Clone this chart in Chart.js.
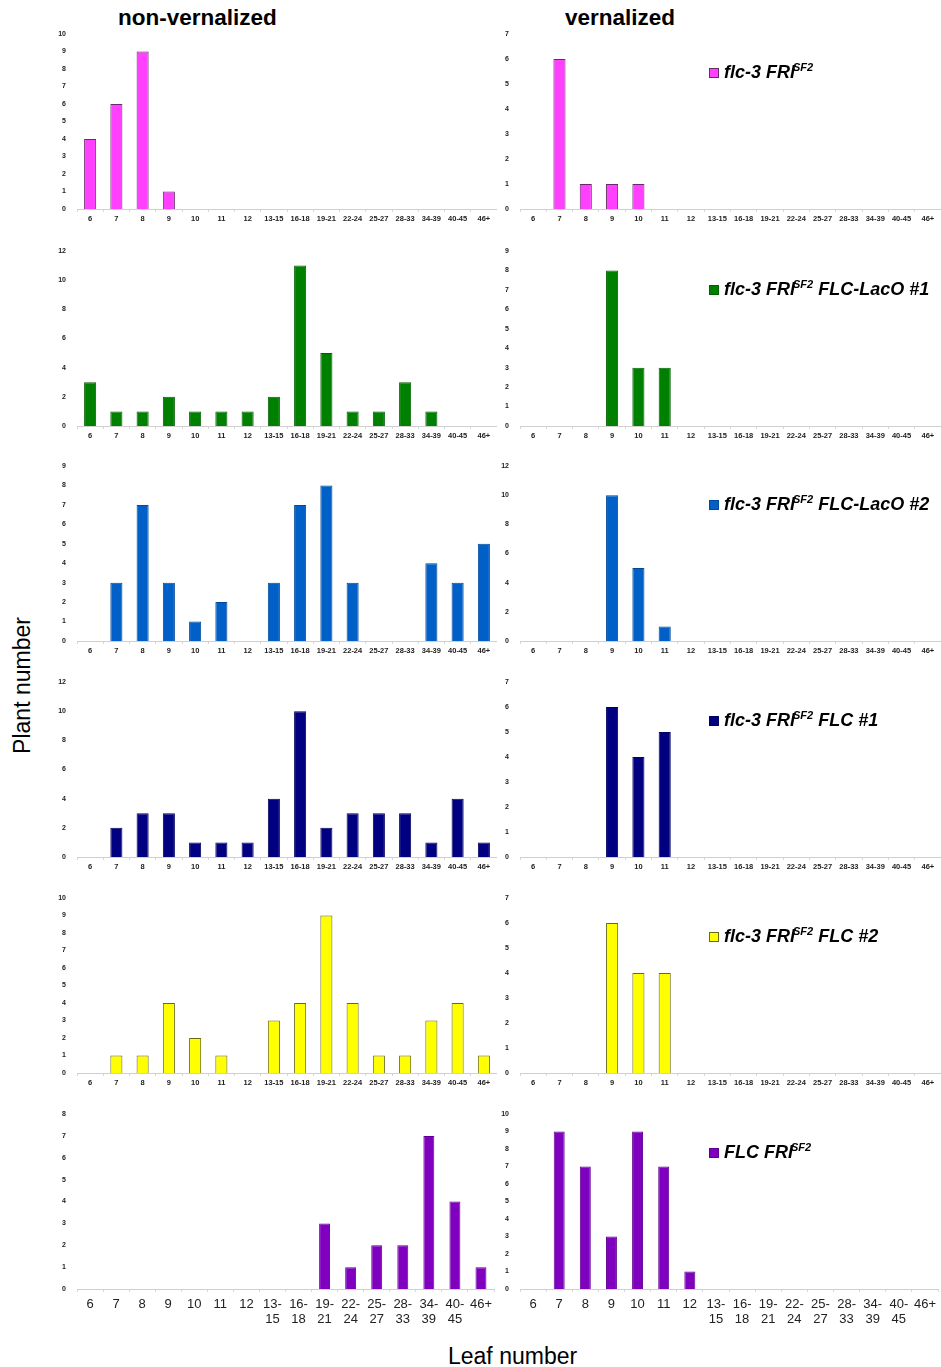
<!DOCTYPE html>
<html>
<head>
<meta charset="utf-8">
<script src="https://cdn.jsdelivr.net/npm/chart.js@4.4.1/dist/chart.umd.min.js"></script>
<style>
    body { margin: 0; background: #fff; width: 941px; height: 1367px; position: relative; overflow: hidden;
           font-family: "Liberation Sans", Arial, sans-serif; color: #000; }
    canvas { position: absolute; }
    .head { position: absolute; top: 5px; font-weight: bold; font-size: 22.5px; }
    .axisTitle { position: absolute; font-size: 23px; }
    .legend { position: absolute; left: 709px; font-weight: bold; font-style: italic; font-size: 18px;
              white-space: pre; line-height: 20px; }
    .legend .box { display: inline-block; width: 10px; height: 10px; margin-right: 5px; box-sizing: border-box;
                   vertical-align: 0px; }
    .legend sup { font-size: 11px; margin-left: -2px; vertical-align: 0; position: relative; top: -7px; }
</style>
</head>
<body>

<div class="head" style="left:118px">non-vernalized</div>
<div class="head" style="left:565px">vernalized</div>
<div class="axisTitle" style="left:-48px; top:672px; transform:rotate(-90deg); width:140px; text-align:center">Plant number</div>
<div class="axisTitle" style="left:448px; top:1343px">Leaf number</div>

<script>
// Leaf number classes (x axis)
const leafBins = ["6", "7", "8", "9", "10", "11", "12", "13-15", "16-18", "19-21",
                  "22-24", "25-27", "28-33", "34-39", "40-45", "46+"];

// Plant counts per class, non-vernalized / vernalized
const flc3NonVern     = [4, 6, 9, 1, 0, 0, 0, 0, 0, 0, 0, 0, 0, 0, 0, 0];
const flc3Vern        = [0, 6, 1, 1, 1, 0, 0, 0, 0, 0, 0, 0, 0, 0, 0, 0];
const laco1NonVern    = [3, 1, 1, 2, 1, 1, 1, 2, 11, 5, 1, 1, 3, 1, 0, 0];
const laco1Vern       = [0, 0, 0, 8, 3, 3, 0, 0, 0, 0, 0, 0, 0, 0, 0, 0];
const laco2NonVern    = [0, 3, 7, 3, 1, 2, 0, 3, 7, 8, 3, 0, 0, 4, 3, 5];
const laco2Vern       = [0, 0, 0, 10, 5, 1, 0, 0, 0, 0, 0, 0, 0, 0, 0, 0];
const flc1NonVern     = [0, 2, 3, 3, 1, 1, 1, 4, 10, 2, 3, 3, 3, 1, 4, 1];
const flc1Vern        = [0, 0, 0, 6, 4, 5, 0, 0, 0, 0, 0, 0, 0, 0, 0, 0];
const flc2NonVern     = [0, 1, 1, 4, 2, 1, 0, 3, 4, 9, 4, 1, 1, 3, 4, 1];
const flc2Vern        = [0, 0, 0, 6, 4, 4, 0, 0, 0, 0, 0, 0, 0, 0, 0, 0];
const flcFriNonVern   = [0, 0, 0, 0, 0, 0, 0, 0, 0, 3, 1, 2, 2, 7, 4, 1];
const flcFriVern      = [0, 9, 7, 3, 9, 7, 1, 0, 0, 0, 0, 0, 0, 0, 0, 0];

const nonVernSeries = [flc3NonVern, laco1NonVern, laco2NonVern, flc1NonVern, flc2NonVern, flcFriNonVern];
const vernSeries    = [flc3Vern, laco1Vern, laco2Vern, flc1Vern, flc2Vern, flcFriVern];

// Axis maxima and steps
const yMaxNonVern  = [10, 12, 9, 12, 10, 8];
const yStepNonVern = [1, 2, 1, 2, 1, 1];
const yMaxVern     = [7, 9, 12, 7, 7, 10];
const yStepVern    = [1, 1, 2, 1, 1, 1];

// Line names (legend): base, superscript, suffix
const lineBase   = ["flc-3 FRI", "flc-3 FRI", "flc-3 FRI", "flc-3 FRI", "flc-3 FRI", "FLC FRI"];
const lineSup    = ["SF2", "SF2", "SF2", "SF2", "SF2", "SF2"];
const lineSuffix = ["", " FLC-LacO #1", " FLC-LacO #2", " FLC #1", " FLC #2", ""];

const fillColors   = ["#ff40ff", "#008000", "#0060c8", "#000080", "#ffff00", "#8000c0"];
const borderColors = ["#6a2a6a", "#006000", "#004a9a", "#000060", "#6a6a10", "#600090"];

const rowTops = [34, 251, 466, 682, 898, 1114];
const plotH = 175;
const padTop = 8;

function makePanel(left, width, top, values, color, border, yMax, yStep, bottomRow) {
    const xAxisH = bottomRow ? 45 : 20;
    const canvas = document.createElement("canvas");
    canvas.width = width;
    canvas.height = padTop + plotH + xAxisH;
    canvas.style.left = left + "px";
    canvas.style.top = (top - padTop) + "px";
    document.body.appendChild(canvas);

    new Chart(canvas, {
        type: "bar",
        data: {
            labels: bottomRow ? leafBins.map(l => l.includes("-") ? [l.split("-")[0] + "-", l.split("-")[1]] : l) : leafBins,
            datasets: [{
                data: values,
                backgroundColor: color,
                borderColor: border,
                borderWidth: ctx => ctx.raw ? 1 : 0,
                borderSkipped: "bottom",
                barPercentage: bottomRow ? 0.42 : 0.46,
                categoryPercentage: 1
            }]
        },
        options: {
            responsive: false,
            animation: false,
            devicePixelRatio: 1,
            layout: { padding: { top: padTop, left: 0, right: 0, bottom: 0 } },
            plugins: { legend: { display: false }, tooltip: { enabled: false } },
            scales: {
                x: {
                    afterFit: s => { s.height = xAxisH; },
                    grid: { display: true, drawOnChartArea: false, drawTicks: true, tickLength: 3, color: "#d8d8d8" },
                    border: { color: "#d0d0d0" },
                    ticks: {
                        autoSkip: false, maxRotation: 0, padding: bottomRow ? 5 : 2,
                        color: "#222",
                        font: bottomRow ? { size: 13, family: "Liberation Sans", lineHeight: 1.15 }
                                        : { size: 7.5, weight: "bold", family: "Liberation Sans" }
                    }
                },
                y: {
                    min: 0, max: yMax,
                    afterFit: s => { s.width = 20; },
                    grid: { display: false },
                    border: { display: false },
                    ticks: {
                        stepSize: yStep, padding: 3, color: "#222",
                        font: { size: 7, weight: "bold", family: "Liberation Sans" }
                    }
                }
            }
        }
    });
}

function makeLegend(row) {
    const div = document.createElement("div");
    div.className = "legend";
    div.style.top = (rowTops[row] + 28) + "px";
    div.innerHTML = `<span class="box" style="background:${fillColors[row]};border:1px solid ${borderColors[row]}"></span>` +
        `${lineBase[row]}<sup>${lineSup[row]}</sup>${lineSuffix[row]}`;
    document.body.appendChild(div);
}

for (let r = 0; r < 6; r++) {
    const bottomRow = r === 5;
    makePanel(57, 440, rowTops[r], nonVernSeries[r], fillColors[r], borderColors[r], yMaxNonVern[r], yStepNonVern[r], bottomRow);
    makePanel(500, 441, rowTops[r], vernSeries[r], fillColors[r], borderColors[r], yMaxVern[r], yStepVern[r], bottomRow);
    makeLegend(r);
}
</script>
</body>
</html>
